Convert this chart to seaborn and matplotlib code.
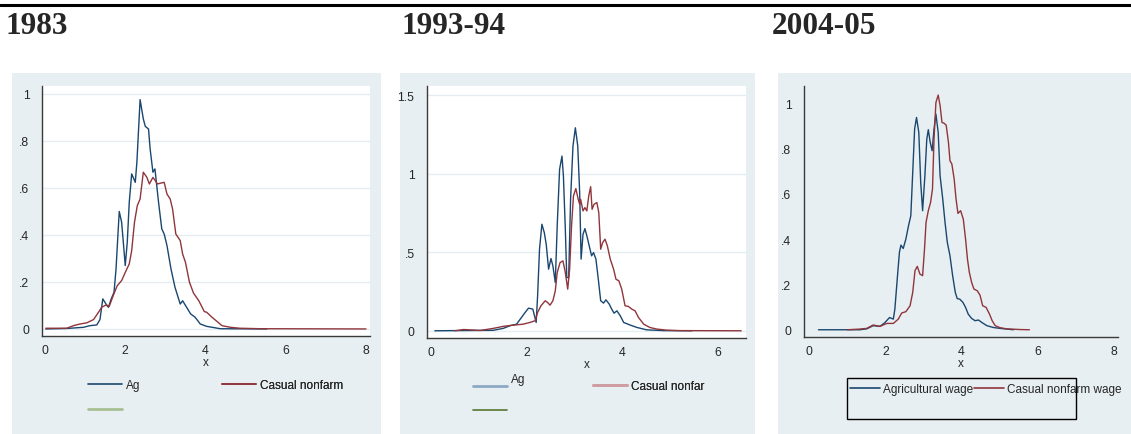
import seaborn as sns
import matplotlib.pyplot as plt
from matplotlib.lines import Line2D
from matplotlib.patches import Rectangle

# kernel density of log daily wage
# 1983
ag_1983_x = [0.02, 0.54, 0.96, 1.12, 1.29, 1.37, 1.44, 1.52, 1.58, 1.65, 1.72, 1.77, 1.85, 1.91,
             2.00, 2.05, 2.10, 2.16, 2.25, 2.29, 2.37, 2.45, 2.50, 2.58, 2.62, 2.69, 2.74, 2.83,
             2.91, 2.97, 3.04, 3.14, 3.24, 3.37, 3.43, 3.53, 3.63, 3.74, 3.87, 4.03, 4.20, 4.37, 5.53]
ag_1983_y = [0.000, 0.002, 0.007, 0.014, 0.017, 0.040, 0.128, 0.106, 0.092, 0.128, 0.156, 0.255,
             0.500, 0.454, 0.270, 0.369, 0.540, 0.660, 0.624, 0.710, 0.976, 0.894, 0.862, 0.851,
             0.766, 0.667, 0.681, 0.539, 0.426, 0.404, 0.355, 0.255, 0.177, 0.106, 0.120, 0.092,
             0.064, 0.050, 0.021, 0.011, 0.006, 0.001, 0.000]
nf_1983_x = [0.02, 0.54, 0.71, 0.87, 1.04, 1.21, 1.33, 1.41, 1.52, 1.60, 1.70, 1.80, 1.91, 2.02,
             2.10, 2.16, 2.23, 2.30, 2.37, 2.45, 2.54, 2.60, 2.69, 2.75, 2.80, 2.87, 2.97, 3.04,
             3.12, 3.18, 3.26, 3.37, 3.43, 3.50, 3.60, 3.70, 3.83, 3.97, 4.03, 4.16, 4.28, 4.41,
             4.62, 4.86, 5.36, 8.00]
nf_1983_y = [0.003, 0.003, 0.014, 0.021, 0.026, 0.040, 0.070, 0.092, 0.102, 0.096, 0.142, 0.184,
             0.206, 0.248, 0.277, 0.333, 0.454, 0.525, 0.553, 0.667, 0.645, 0.617, 0.645, 0.631,
             0.617, 0.620, 0.624, 0.574, 0.553, 0.510, 0.404, 0.376, 0.319, 0.284, 0.199, 0.153,
             0.121, 0.074, 0.071, 0.050, 0.033, 0.014, 0.007, 0.003, 0.001, 0.000]

# 1993-94
ag_1993_x = [0.08, 1.30, 1.51, 1.65, 1.79, 1.97, 2.04, 2.13, 2.20, 2.23, 2.27, 2.32, 2.37, 2.41,
             2.46, 2.51, 2.55, 2.60, 2.64, 2.69, 2.74, 2.77, 2.81, 2.84, 2.88, 2.92, 2.97, 3.02,
             3.07, 3.11, 3.14, 3.18, 3.22, 3.27, 3.31, 3.36, 3.40, 3.45, 3.50, 3.55, 3.61, 3.66,
             3.73, 3.78, 3.83, 3.89, 3.96, 4.03, 4.17, 4.31, 4.51, 4.86, 5.46]
ag_1993_y = [0.000, 0.003, 0.015, 0.032, 0.042, 0.117, 0.144, 0.138, 0.053, 0.222, 0.519, 0.678,
             0.625, 0.551, 0.392, 0.460, 0.413, 0.307, 0.667, 1.028, 1.112, 0.985, 0.646, 0.339,
             0.339, 0.837, 1.176, 1.292, 1.176, 0.879, 0.456, 0.614, 0.650, 0.593, 0.540, 0.477,
             0.498, 0.456, 0.328, 0.191, 0.176, 0.197, 0.169, 0.138, 0.112, 0.127, 0.095, 0.053,
             0.036, 0.021, 0.006, 0.001, 0.000]
nf_1993_x = [0.50, 0.68, 1.03, 1.30, 1.51, 1.72, 1.93, 2.07, 2.18, 2.23, 2.30, 2.39, 2.44, 2.49,
             2.55, 2.60, 2.64, 2.70, 2.76, 2.81, 2.86, 2.90, 2.94, 2.98, 3.03, 3.08, 3.11, 3.13,
             3.18, 3.22, 3.26, 3.30, 3.34, 3.37, 3.41, 3.47, 3.51, 3.55, 3.59, 3.64, 3.69, 3.75,
             3.82, 3.87, 3.93, 3.99, 4.06, 4.13, 4.20, 4.27, 4.34, 4.45, 4.58, 4.72, 4.93, 5.21, 6.49]
nf_1993_y = [0.000, 0.008, 0.002, 0.015, 0.028, 0.036, 0.042, 0.053, 0.064, 0.117, 0.159, 0.191,
             0.180, 0.163, 0.191, 0.254, 0.371, 0.434, 0.445, 0.371, 0.265, 0.392, 0.667, 0.858,
             0.905, 0.837, 0.805, 0.837, 0.763, 0.784, 0.763, 0.858, 0.917, 0.773, 0.805, 0.816,
             0.752, 0.519, 0.561, 0.583, 0.540, 0.456, 0.392, 0.328, 0.318, 0.265, 0.159, 0.155,
             0.138, 0.127, 0.085, 0.042, 0.021, 0.011, 0.004, 0.001, 0.000]

# 2004-05
ag_2004_x = [0.24, 1.33, 1.51, 1.68, 1.86, 1.99, 2.11, 2.21, 2.25, 2.32, 2.37, 2.41, 2.47, 2.54,
             2.61, 2.67, 2.72, 2.77, 2.82, 2.88, 2.93, 2.98, 3.04, 3.09, 3.13, 3.18, 3.23, 3.28,
             3.33, 3.39, 3.44, 3.51, 3.57, 3.63, 3.70, 3.77, 3.84, 3.89, 3.96, 4.04, 4.11, 4.18,
             4.27, 4.36, 4.45, 4.54, 4.67, 4.84, 5.02, 5.37]
ag_2004_y = [0.000, 0.000, 0.004, 0.018, 0.015, 0.032, 0.054, 0.047, 0.091, 0.239, 0.342, 0.374,
             0.359, 0.401, 0.460, 0.504, 0.695, 0.887, 0.938, 0.872, 0.651, 0.526, 0.680, 0.842,
             0.884, 0.828, 0.791, 0.887, 0.953, 0.872, 0.680, 0.577, 0.474, 0.386, 0.327, 0.239,
             0.165, 0.138, 0.135, 0.121, 0.099, 0.069, 0.050, 0.040, 0.043, 0.032, 0.018, 0.010,
             0.006, 0.000]
nf_2004_x = [1.00, 1.33, 1.51, 1.68, 1.86, 2.04, 2.21, 2.34, 2.43, 2.54, 2.65, 2.72, 2.78, 2.84,
             2.91, 2.98, 3.03, 3.07, 3.13, 3.19, 3.24, 3.28, 3.33, 3.39, 3.44, 3.49, 3.54, 3.60,
             3.66, 3.70, 3.75, 3.81, 3.86, 3.91, 3.98, 4.05, 4.11, 4.16, 4.21, 4.27, 4.33, 4.42,
             4.49, 4.56, 4.65, 4.74, 4.81, 4.89, 5.02, 5.19, 5.54, 5.79]
nf_2004_y = [0.000, 0.003, 0.006, 0.021, 0.015, 0.028, 0.028, 0.047, 0.074, 0.080, 0.106, 0.165,
             0.261, 0.280, 0.246, 0.239, 0.356, 0.474, 0.526, 0.563, 0.622, 0.842, 1.004, 1.037,
             0.990, 0.916, 0.913, 0.904, 0.828, 0.747, 0.732, 0.666, 0.577, 0.514, 0.526, 0.489,
             0.401, 0.312, 0.253, 0.209, 0.180, 0.172, 0.153, 0.106, 0.099, 0.069, 0.040, 0.018,
             0.009, 0.004, 0.001, 0.000]

titles = ["1983", "1993-94", "2004-05"]
y_ticks = [[0, 0.2, 0.4, 0.6, 0.8, 1], [0, 0.5, 1, 1.5], [0, 0.2, 0.4, 0.6, 0.8, 1]]
y_tick_labels = [["0", ".2", ".4", ".6", ".8", "1"], ["0", ".5", "1", "1.5"],
                 ["0", ".2", ".4", ".6", ".8", "1"]]
x_ticks = [[0, 2, 4, 6, 8], [0, 2, 4, 6], [0, 2, 4, 6, 8]]

BLUE, RED, GREEN = "#1a476f", "#90353b", "#55752f"
BG = "#e8eff2"
W, H = 1131, 435

sns.set_style("white")
plt.rcParams["font.family"] = ["Liberation Sans", "DejaVu Sans"]

fig = plt.figure(figsize=(W / 100, H / 100), dpi=100)


def fx(px):
    return px / W


def fy(px):
    return 1 - px / H


# rule at the top of the page
fig.add_artist(Line2D([0, 1], [fy(6), fy(6)], transform=fig.transFigure, color="black", lw=2.2))

# light graph regions behind each panel
for left, right in [(12, 381), (400, 755), (778, 1131)]:
    fig.add_artist(Rectangle((fx(left), 0), fx(right - left), fy(74), transform=fig.transFigure,
                             facecolor=BG, edgecolor="none", zorder=-1))

for x0, t in zip([5, 402, 772], titles):
    fig.text(fx(x0), fy(34), t, family="Liberation Serif", weight="bold", fontsize=22.5,
             va="baseline")

# axes rectangles (pixels) and limits
boxes = [(42, 87, 370, 337), (427, 87, 746, 339), (804, 87, 1118, 338)]
xlims = [(-0.075, 8.1), (-0.084, 6.59), (-0.14, 8.12)]
ylims = [(-0.03, 1.034), (-0.046, 1.558), (-0.032, 1.077)]
curves = [(ag_1983_x, ag_1983_y, nf_1983_x, nf_1983_y),
          (ag_1993_x, ag_1993_y, nf_1993_x, nf_1993_y),
          (ag_2004_x, ag_2004_y, nf_2004_x, nf_2004_y)]

axes = []
for i, (l, t, r, b) in enumerate(boxes):
    ax = fig.add_axes([fx(l), fy(b), fx(r - l), (b - t) / H])
    ax.set_facecolor("white" if i < 2 else BG)
    agx, agy, nfx, nfy = curves[i]
    sns.lineplot(x=agx, y=agy, ax=ax, color=BLUE, linewidth=1.0, sort=False, estimator=None)
    sns.lineplot(x=nfx, y=nfy, ax=ax, color=RED, linewidth=1.0, sort=False, estimator=None)

    ax.set_xlim(*xlims[i])
    ax.set_ylim(*ylims[i])
    ax.set_xticks(x_ticks[i])
    ax.set_xticklabels([str(v) for v in x_ticks[i]])
    ax.set_yticks(y_ticks[i])
    ax.set_yticklabels(y_tick_labels[i])
    if i < 2:
        ax.grid(axis="y", color="#e4edf0", lw=1)
    ax.set_axisbelow(True)
    sns.despine(ax=ax)
    for side in ["left", "bottom"]:
        ax.spines[side].set_color("#3a3a3a")
        ax.spines[side].set_linewidth(1.0)
    ax.tick_params(direction="out", length=4, width=1.0, color="#3a3a3a", labelsize=8.8)
    ax.tick_params(axis="y", pad=5)
    ax.tick_params(axis="x", pad=2)
    ax.set_xlabel("x", fontsize=8.5, labelpad=0)
    ax.set_ylabel("")
    axes.append(ax)


def legend_column(ax, handles, labels, x_px, y_px, spacing=0.75):
    leg = ax.legend(handles, labels, loc="upper left", bbox_to_anchor=(fx(x_px), fy(y_px)),
                    bbox_transform=fig.transFigure, frameon=False, borderpad=0, borderaxespad=0,
                    handlelength=2.9, handletextpad=0.3, labelspacing=spacing, fontsize=8.5)
    ax.add_artist(leg)


# 1983 legend
legend_column(axes[0], [Line2D([], [], color=BLUE, lw=1.2), Line2D([], [], color="#a8bf92", lw=2)],
              ["Ag", ""], 88, 380, spacing=1.15)
legend_column(axes[0], [Line2D([], [], color=RED, lw=1.2)], ["Casual nonfarm"], 222, 380)

# 1993-94 legend
legend_column(axes[1], [Line2D([], [], color="#8ca9c6", lw=2), Line2D([], [], color=GREEN, lw=1.2)],
              ["Ag\n", ""], 473, 374, spacing=0.55)
legend_column(axes[1], [Line2D([], [], color="#cf9ea3", lw=2)], ["Casual nonfar"], 593, 381)

# 2004-05 legend, text runs past its box
fig.add_artist(Rectangle((fx(847), fy(420)), fx(229), 41 / H, transform=fig.transFigure,
                         fill=False, edgecolor="black", lw=1))
leg = axes[2].legend([Line2D([], [], color=BLUE, lw=1.2), Line2D([], [], color=RED, lw=1.2)],
                     ["Agricultural wage", "Casual nonfarm wage"], ncol=2, loc="upper left",
                     bbox_to_anchor=(fx(850), fy(384)), bbox_transform=fig.transFigure,
                     frameon=False, borderpad=0, borderaxespad=0, handlelength=2.5,
                     handletextpad=0.3, columnspacing=0.1, fontsize=8.5)

fig.savefig("out.png", dpi=100)
